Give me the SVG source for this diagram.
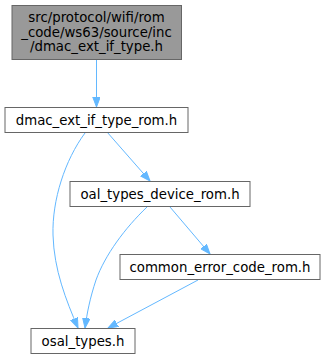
<svg xmlns="http://www.w3.org/2000/svg" width="326" height="359" viewBox="0 0 326 359">
<style>
.box{fill:#ffffff;stroke:#666666;stroke-width:1}
.root{fill:#999999;stroke:#666666;stroke-width:1}
text{font-family:"DejaVu Sans",sans-serif;font-size:13.3px;fill:#000000;text-anchor:middle}
.edge{fill:none;stroke:#63b8ff;stroke-width:1}
</style>
<defs>
<marker id="arr" markerWidth="11" markerHeight="8" refX="10" refY="3.75" orient="auto" markerUnits="userSpaceOnUse">
<path d="M0,0 L10,3.75 L0,7.5 z" fill="#63b8ff" stroke="#63b8ff" stroke-width="1"/>
</marker>
</defs>
<g id="connectors">
<path class="edge" marker-end="url(#arr)" d="M96.5,60 L96.5,107"/>
<path class="edge" marker-end="url(#arr)" d="M85,133 C65,160 52,200 53,235 C54,270 66,300 78,328"/>
<path class="edge" marker-end="url(#arr)" d="M107,132 L150,181"/>
<path class="edge" marker-end="url(#arr)" d="M147,207 C125,228 105,255 96,280 C90,298 87,313 85,328"/>
<path class="edge" marker-end="url(#arr)" d="M170,207 L210,254"/>
<path class="edge" marker-end="url(#arr)" d="M198,280 L108,328"/>
</g>
<g id="node1">
<rect class="root" x="12" y="5.5" width="169.5" height="54"/>
<text x="96.5" y="22">src/protocol/wifi/rom</text>
<text x="96.5" y="36.5">_code/ws63/source/inc</text>
<text x="96.5" y="51">/dmac_ext_if_type.h</text>
</g>
<g id="node2">
<rect class="box" x="5" y="107.5" width="183" height="25"/>
<text x="96.5" y="124.5">dmac_ext_if_type_rom.h</text>
</g>
<g id="node3">
<rect class="box" x="70" y="181.5" width="180" height="25"/>
<text x="160" y="198.5">oal_types_device_rom.h</text>
</g>
<g id="node4">
<rect class="box" x="120" y="254.5" width="200" height="25"/>
<text x="220" y="271.5">common_error_code_rom.h</text>
</g>
<g id="node5">
<rect class="box" x="31" y="328.5" width="104" height="25"/>
<text x="83" y="345.5">osal_types.h</text>
</g>
</svg>
